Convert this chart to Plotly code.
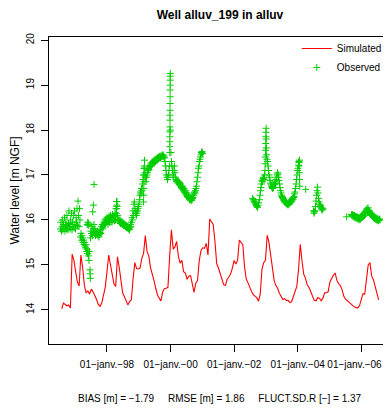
import pandas as pd
import plotly.graph_objects as go

# simulated head, one value every 20 days from 1996-07-30
sim_start = "1996-07-30"
sim_step = "20D"
sim_level = [
    14.02, 14.15, 14.12, 14.09, 14.11, 14.04, 15.24, 15.10, 14.85, 14.62,
    14.53, 15.22, 14.95, 14.55, 14.38, 14.42, 14.35, 14.46, 14.40, 14.32,
    14.23, 14.12, 14.08, 14.15, 14.30, 14.50, 14.85, 15.22, 15.00, 14.75,
    14.58, 14.52, 15.18, 14.95, 14.65, 14.38, 14.29, 14.18, 14.11, 14.19,
    14.22, 14.70, 15.05, 14.92, 14.91, 14.93, 15.15, 15.25, 15.65, 15.30,
    15.20, 14.94, 14.82, 14.65, 14.48, 14.33, 14.26, 14.20, 14.40, 14.47,
    14.48, 14.50, 15.20, 15.78, 15.35, 15.40, 15.52, 15.19, 15.04, 15.10,
    14.85, 14.82, 14.68, 14.75, 14.76, 14.60, 14.39, 14.60, 14.65, 15.10,
    15.32, 15.38, 15.37, 15.48, 15.22, 16.02, 15.97, 15.90, 15.52, 15.03,
    14.93, 14.81, 14.73, 14.56, 14.54, 14.68, 14.73, 14.80, 14.93, 15.10,
    15.02, 15.10, 15.55, 15.50, 15.45, 14.95, 14.68, 14.60, 14.49, 14.41,
    14.34, 14.30, 14.27, 14.19, 14.35, 14.90, 15.05, 15.10, 15.66, 15.50,
    15.25, 14.90, 14.65, 14.54, 14.48, 14.37, 14.29, 14.23, 14.25, 14.21,
    14.21, 14.16, 14.18, 14.29, 14.43, 14.52, 14.90, 15.46, 15.08, 14.79,
    14.70, 14.55, 14.50, 14.40, 14.27, 14.21, 14.20, 14.27, 14.26, 14.20,
    14.26, 14.38, 14.38, 14.40, 14.62, 14.70, 14.77, 14.82, 14.66, 14.58,
    14.54, 14.45, 14.30, 14.24, 14.20, 14.17, 14.14, 14.10, 14.07, 14.05,
    14.04, 14.09, 14.22, 14.36, 14.35, 14.65, 15.00, 15.05, 14.75, 14.67,
    14.53, 14.34, 14.22,
]

# observed head, measured in runs: each run is evenly spaced between its start and end
obs_start = [
    "1996-07-16", "1997-03-03", "1997-05-20", "1997-06-20", "1997-07-21",
    "1997-06-25", "1997-12-15", "1998-04-19", "1998-06-16", "1998-10-09",
    "1999-01-15", "1999-02-24", "1999-05-16", "1999-12-23", "1999-12-31",
    "2002-08-01", "2002-10-30", "2002-12-21", "2003-01-13", "2004-01-15",
    "2004-04-01", "2004-06-30", "2005-07-16", "2005-09-09",
]
obs_end = [
    "1997-02-25", "1997-06-14", "1997-06-05", "1997-06-23", "1997-08-05",
    "1997-12-09", "1998-06-11", "1998-04-26", "1998-10-04", "1999-01-09",
    "1999-05-10", "1999-03-08", "1999-12-20", "1999-12-29", "2001-01-02",
    "2002-10-24", "2002-12-15", "2003-01-09", "2004-01-21", "2004-01-24",
    "2004-04-01", "2004-10-17", "2005-07-16", "2006-08-03",
]
obs_level = [
    [15.80, 15.95, 15.75, 15.85, 16.00, 15.78, 15.90, 15.82, 16.05, 15.75,
     15.88, 15.95, 15.80, 16.10, 15.85, 15.78, 15.92, 16.20, 15.85, 15.80,
     16.00, 15.90, 16.15, 15.78, 15.95, 15.85, 16.10, 15.82, 16.20, 15.90,
     15.80, 16.05, 15.95, 16.25, 15.88, 16.42, 16.10, 15.85, 16.25, 16.00],
    [15.62, 15.70, 15.55, 15.65, 15.60, 15.50, 15.55, 15.45, 15.50, 15.42,
     15.38, 15.45, 15.30, 15.35, 15.25, 15.30, 15.20, 15.10, 15.30],
    [15.90, 15.95, 15.88, 15.93],
    [14.89, 14.80, 14.70],
    [16.18, 16.33, 16.79],
    [15.60, 15.75, 15.70, 15.85, 15.65, 15.80, 15.72, 15.90, 15.70, 15.80,
     15.65, 15.75, 15.70, 15.68, 15.75, 15.65, 15.70, 15.62, 15.68, 15.72,
     15.78, 15.70, 15.85, 15.80, 15.90, 15.82, 15.88, 15.95, 15.90, 16.00],
    [15.92, 16.02, 15.95, 16.05, 15.98, 15.90, 16.00, 16.08, 15.95, 16.02,
     16.10, 15.98, 16.05, 15.95, 16.12, 16.00, 16.05, 16.08, 15.98, 16.15,
     16.00, 16.25, 16.41, 16.30, 16.10, 16.02, 15.98, 16.00, 15.95, 16.00,
     15.92, 15.97],
    [16.15, 16.25, 16.33, 16.41],
    [15.92, 15.95, 15.90, 15.93, 15.88, 15.92, 15.87, 15.90, 15.85, 15.88,
     15.83, 15.87, 15.82, 15.85, 15.80, 15.84, 15.78, 15.82, 15.90, 15.85],
    [15.95, 16.05, 16.00, 16.20, 16.10, 16.35, 16.40, 16.25, 16.15, 16.20,
     16.10, 16.15, 16.20, 16.25, 16.30, 16.35, 16.45],
    [16.55, 16.62, 16.58, 16.70, 16.65, 16.80, 16.90, 17.00, 17.15, 17.20,
     17.05, 16.95, 16.85, 16.95, 17.00, 17.05, 17.10, 17.15, 17.12, 17.18,
     17.20],
    [16.40, 16.55, 16.70, 16.85, 17.00, 17.15, 17.33],
    [17.22, 17.25, 17.20, 17.28, 17.24, 17.30, 17.27, 17.32, 17.28, 17.35,
     17.30, 17.33, 17.36, 17.32, 17.38, 17.35, 17.40, 17.37, 17.40, 17.42,
     17.38, 17.42, 17.40, 17.44, 17.42, 17.45, 17.42, 17.40, 17.38, 17.30,
     17.20, 17.10, 17.00, 16.95, 16.90, 16.95, 17.00, 17.10, 17.20],
    [17.50, 17.63, 17.74, 17.85, 17.96, 18.07, 18.22, 18.33, 18.44, 18.59,
     18.74, 18.89, 19.00, 19.11, 19.20, 19.26],
    [18.00, 17.50, 17.30, 17.20, 17.10, 17.00, 16.95, 17.10, 17.20, 17.05,
     16.95, 16.90, 16.85, 16.88, 16.85, 16.82, 16.85, 16.80, 16.83, 16.78,
     16.80, 16.75, 16.72, 16.70, 16.75, 16.68, 16.65, 16.70, 16.62, 16.60,
     16.65, 16.58, 16.55, 16.60, 16.52, 16.50, 16.55, 16.48, 16.45, 16.50,
     16.47, 16.43, 16.46, 16.44, 16.48, 16.50, 16.55, 16.58, 16.62, 16.60,
     16.65, 16.70, 16.75, 16.85, 16.95, 17.05, 17.15, 17.20, 17.30, 17.35,
     17.40, 17.45, 17.50, 17.52, 17.48],
    [16.48, 16.45, 16.42, 16.40, 16.38, 16.35, 16.32, 16.30, 16.28, 16.33,
     16.38, 16.45, 16.55],
    [16.65, 16.72, 16.80, 16.88, 16.85, 16.92, 16.95, 16.90, 17.00],
    [17.10, 17.25, 17.40, 17.55, 17.70, 17.85, 17.95, 18.04, 17.80, 17.60,
     17.45],
    [17.35, 17.30, 17.20, 17.10, 17.00, 16.95, 16.88, 16.82, 16.78, 16.75,
     16.72, 16.70, 16.75, 16.72, 16.78, 16.80, 16.85, 16.82, 16.90, 16.95,
     17.00, 17.05, 17.02, 16.95, 16.88, 16.80, 16.72, 16.65, 16.60, 16.55,
     16.52, 16.50, 16.48, 16.45, 16.43, 16.40, 16.42, 16.38, 16.40, 16.36,
     16.38, 16.35, 16.33, 16.36, 16.35, 16.40, 16.38, 16.42, 16.40, 16.45,
     16.42, 16.48, 16.45, 16.50, 16.52, 16.58, 16.62, 16.70, 16.80, 16.90,
     17.00, 17.10, 17.15, 17.22, 17.28, 17.33],
    [17.30, 17.20, 17.05, 16.90, 16.75],
    [16.68],
    [16.20, 16.15, 16.18, 16.20, 16.30, 16.42, 16.55, 16.65, 16.73, 16.60,
     16.48, 16.40, 16.35, 16.30, 16.33, 16.28, 16.25, 16.22, 16.26, 16.24],
    [16.07],
    [16.12, 16.10, 16.12, 16.08, 16.10, 16.06, 16.10, 16.05, 16.08, 16.04,
     16.07, 16.03, 16.06, 16.02, 16.05, 16.00, 16.03, 16.05, 16.02, 16.08,
     16.05, 16.10, 16.06, 16.12, 16.08, 16.15, 16.10, 16.18, 16.15, 16.20,
     16.22, 16.25, 16.20, 16.27, 16.22, 16.18, 16.20, 16.15, 16.12, 16.15,
     16.10, 16.12, 16.08, 16.10, 16.05, 16.08, 16.03, 16.06, 16.02, 16.05,
     16.00, 16.03, 16.00, 16.02, 15.98, 16.00, 16.02, 16.00],
]

tick_dates = ["1998-01-01", "2000-01-01", "2002-01-01", "2004-01-01", "2006-01-01"]
# last label padded on the right so that it stays inside the window
tick_text = ["01\u2212janv.\u221298", "01\u2212janv.\u221200", "01\u2212janv.\u221202",
             "01\u2212janv.\u221204", "01\u2212janv.\u221206" + "\u00a0" * 5]
y_ticks = [14, 15, 16, 17, 18, 19, 20]

title = "Well alluv_199 in alluv"
stats = ("BIAS [m] = \u22121.79\u00a0\u00a0\u00a0\u00a0\u00a0RMSE [m] = 1.86"
         "\u00a0\u00a0\u00a0\u00a0\u00a0FLUCT.SD.R [\u2212] = 1.37")

sim_dates = pd.date_range(sim_start, periods=len(sim_level), freq=sim_step)

obs_dates = []
obs_values = []
for s, e, vals in zip(obs_start, obs_end, obs_level):
    obs_dates.extend(pd.date_range(s, e, periods=len(vals)))
    obs_values.extend(vals)

font = "Liberation Sans, Arial, sans-serif"

# the page body adds an 8 px margin all round, so keep the figure inside the window
W, H = 375, 396

fig = go.Figure()

fig.add_trace(go.Scatter(
    x=sim_dates, y=sim_level,
    mode="lines", name="Simulated",
    line=dict(color="#FF0000", width=1.1),
))

fig.add_trace(go.Scatter(
    x=obs_dates, y=obs_values,
    mode="markers", name="Observed",
    marker=dict(symbol="cross-thin", size=5, color="#00CD00",
                line=dict(color="#00CD00", width=1)),
))

fig.update_layout(
    width=W, height=H,
    margin=dict(l=41, r=0, t=29, b=60, autoexpand=False),
    paper_bgcolor="white", plot_bgcolor="white",
    font=dict(family=font, size=10, color="black"),
    title=dict(text="<b>" + title + "</b>", font=dict(size=12),
               x=(220 - 49) / 334, xref="paper", xanchor="center",
               y=1 - 7 / H, yref="container", yanchor="middle"),
    legend=dict(x=0.742, y=1.01, xanchor="left", yanchor="top",
                bgcolor="rgba(0,0,0,0)", font=dict(size=10), itemwidth=30,
                tracegroupgap=0),
    showlegend=True,
)

fig.update_xaxes(
    range=["1996-03-06", "2006-09-06"], automargin=False,
    tickmode="array", tickvals=tick_dates, ticktext=tick_text,
    ticks="outside", ticklen=7, tickcolor="black", ticklabelstandoff=4,
    ticklabeloverflow="allow",
    showline=True, linecolor="black", linewidth=1, mirror=True,
    showgrid=False, zeroline=False,
)

fig.update_yaxes(
    range=[13.24, 20.07], automargin=False,
    tickmode="array", tickvals=y_ticks,
    ticks="outside", ticklen=7, tickcolor="black", tickangle=-90,
    ticklabelstandoff=3,
    showline=True, linecolor="black", linewidth=1,
    showgrid=False, zeroline=False,
    title=dict(text="Water level [m NGF]", standoff=6),
)

fig.add_annotation(
    text=stats, xref="paper", yref="paper", x=(220 - 49) / 334,
    y=(344 - 398) / 307,
    xanchor="center", yanchor="middle", showarrow=False,
    font=dict(size=10),
)

fig.write_html("out.html")
